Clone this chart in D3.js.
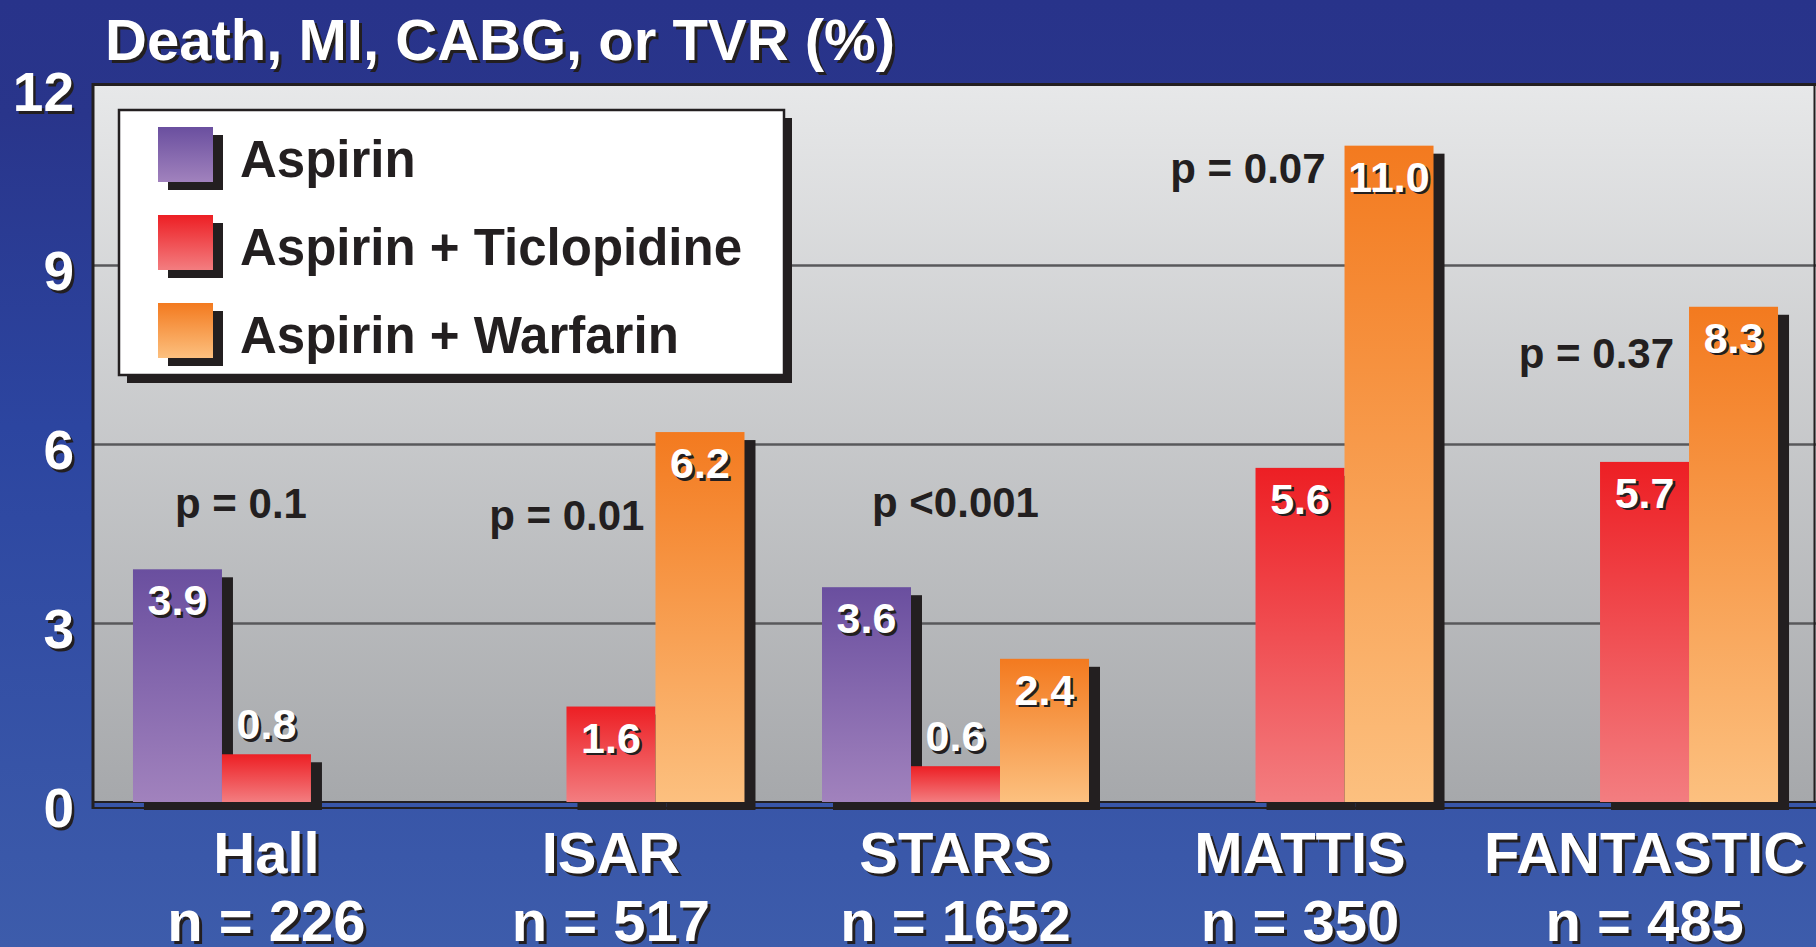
<!DOCTYPE html>
<html>
<head>
<meta charset="utf-8">
<script src="https://cdn.jsdelivr.net/npm/d3@7"></script>
<style>
  body { margin: 0; background: #2c3f95; }
  svg { display: block; font-family: "Liberation Sans", Arial, sans-serif; font-weight: bold; }
</style>
</head>
<body>
<div id="vis"></div>
<script>
// data
const trials = ["Hall", "ISAR", "STARS", "MATTIS", "FANTASTIC"];
const trialN = ["n = 226", "n = 517", "n = 1652", "n = 350", "n = 485"];
const seriesNames = ["Aspirin", "Aspirin + Ticlopidine", "Aspirin + Warfarin"];
const aspirin = [3.9, null, 3.6, null, null];
const ticlopidine = [0.8, 1.6, 0.6, 5.6, 5.7];
const warfarin = [null, 6.2, 2.4, 11.0, 8.3];
const pValues = ["p = 0.1", "p = 0.01", "p <0.001", "p = 0.07", "p = 0.37"];
const yTicks = [0, 3, 6, 9, 12];

const FRAME_WIDTH = 1816;
const FRAME_HEIGHT = 947;
const PLOT = {left: 93, top: 85, right: 1816, bottom: 802};
const DARK = "#231f20";
const SHADOW = {dx: 11, dy: 8};

// where each p label sits: offset from the band start, anchor, and height in data units
const P_LAYOUT = [
  {dx: 108, anchor: "middle", y: 4.76},
  {dx: 167, anchor: "end", y: 4.56},
  {dx: 133.5, anchor: "middle", y: 4.78},
  {dx: 159, anchor: "end", y: 10.37},
  {dx: 163, anchor: "end", y: 7.27}
];

const colors = [
  ["#6a4f9f", "#a182bd"],
  ["#ed1f24", "#f37d80"],
  ["#f37a1f", "#fcc07f"]
];

const table = trials.map((t, i) => ({
  trial: t,
  values: [aspirin[i], ticlopidine[i], warfarin[i]]
}));

const svg = d3.select("#vis").append("svg")
  .attr("width", FRAME_WIDTH)
  .attr("height", FRAME_HEIGHT);

const defs = svg.append("defs");

function vGrad(id, stops) {
  const g = defs.append("linearGradient").attr("id", id)
    .attr("x1", 0).attr("y1", 0).attr("x2", 0).attr("y2", 1);
  stops.forEach(s => g.append("stop").attr("offset", s[0]).attr("stop-color", s[1]));
}
vGrad("bg", [[0, "#28338a"], [0.12, "#29358b"], [0.45, "#2c45a0"], [1, "#3d5cab"]]);
vGrad("plotbg", [[0, "#e7e8e9"], [1, "#a6a8ab"]]);
colors.forEach((c, i) => vGrad("bar" + i, [[0, c[0]], [1, c[1]]]));

svg.append("rect").attr("width", FRAME_WIDTH).attr("height", FRAME_HEIGHT).attr("fill", "url(#bg)");

// scales
const X_SCALE = d3.scaleBand()
  .domain(trials)
  .range([PLOT.left, 1818])
  .paddingInner(0.225)
  .paddingOuter(0.116);

const X_SUB = d3.scaleBand()
  .domain([0, 1, 2])
  .range([0, X_SCALE.bandwidth()]);

const Y_SCALE = d3.scaleLinear()
  .domain([0, 12])
  .range([PLOT.bottom, 86]);

// plot area
svg.append("rect")
  .attr("x", PLOT.left).attr("y", PLOT.top)
  .attr("width", PLOT.right - PLOT.left).attr("height", PLOT.bottom - PLOT.top)
  .attr("fill", "url(#plotbg)");

// gridlines
svg.append("g")
  .attr("transform", "translate(" + PLOT.left + ",0)")
  .call(d3.axisLeft(Y_SCALE).tickValues([3, 6, 9]).tickSize(-(PLOT.right - PLOT.left)).tickFormat(""))
  .call(g => g.select(".domain").remove())
  .call(g => g.selectAll("line").attr("stroke", "#58595b").attr("stroke-width", 2.5));

// frame lines
svg.append("line").attr("x1", PLOT.left - 1).attr("x2", PLOT.right).attr("y1", 84.5).attr("y2", 84.5)
  .attr("stroke", DARK).attr("stroke-width", 3);
svg.append("line").attr("x1", PLOT.left).attr("x2", PLOT.left).attr("y1", 83).attr("y2", 809)
  .attr("stroke", DARK).attr("stroke-width", 3);
svg.append("line").attr("x1", 1814.5).attr("x2", 1814.5).attr("y1", 83).attr("y2", PLOT.bottom)
  .attr("stroke", DARK).attr("stroke-width", 2);
svg.append("line").attr("x1", PLOT.left).attr("x2", PLOT.right).attr("y1", PLOT.bottom).attr("y2", PLOT.bottom)
  .attr("stroke", DARK).attr("stroke-width", 2);
svg.append("line").attr("x1", PLOT.left).attr("x2", PLOT.right).attr("y1", 808).attr("y2", 808)
  .attr("stroke", DARK).attr("stroke-width", 2);

// bars
const barData = [];
table.forEach(d => d.values.forEach((v, s) => {
  if (v !== null) barData.push({trial: d.trial, s: s, v: v});
}));
const bx = d => X_SCALE(d.trial) + X_SUB(d.s);

svg.append("g").selectAll("rect")
  .data(barData).enter().append("rect")
  .attr("x", d => bx(d) + SHADOW.dx)
  .attr("y", d => Y_SCALE(d.v) + SHADOW.dy)
  .attr("width", X_SUB.bandwidth())
  .attr("height", d => Y_SCALE(0) - Y_SCALE(d.v))
  .attr("fill", DARK);

svg.append("g").selectAll("rect")
  .data(barData).enter().append("rect")
  .attr("x", d => bx(d))
  .attr("y", d => Y_SCALE(d.v))
  .attr("width", X_SUB.bandwidth())
  .attr("height", d => Y_SCALE(0) - Y_SCALE(d.v))
  .attr("fill", d => "url(#bar" + d.s + ")");

// text with a drop shadow
function shadowText(x, y, txt, size, anchor, off) {
  const g = svg.append("g")
    .attr("font-size", size)
    .attr("text-anchor", anchor);
  g.append("text").attr("x", x + off).attr("y", y + off).attr("fill", DARK).text(txt);
  g.append("text").attr("x", x).attr("y", y).attr("fill", "#fff").text(txt);
  return g;
}

// value labels
barData.forEach(d => {
  const cx = bx(d) + X_SUB.bandwidth() / 2;
  const y = d.v < 1 ? Y_SCALE(d.v) - 15 : Y_SCALE(d.v) + 46;
  shadowText(cx, y, d.v.toFixed(1), 43, "middle", 2.5);
});

// p values
svg.append("g").selectAll("text")
  .data(pValues).enter().append("text")
  .attr("x", (d, i) => X_SCALE(trials[i]) + P_LAYOUT[i].dx)
  .attr("y", (d, i) => Y_SCALE(P_LAYOUT[i].y))
  .attr("text-anchor", (d, i) => P_LAYOUT[i].anchor)
  .attr("font-size", 42)
  .attr("fill", DARK)
  .text(d => d);

// y axis labels
yTicks.forEach(t => shadowText(74, Y_SCALE(t) + 25, String(t), 55, "end", 2.5));

// category labels
trials.forEach((t, i) => {
  const cx = X_SCALE(t) + X_SCALE.bandwidth() / 2;
  shadowText(cx, 873, t, 58, "middle", 3);
  shadowText(cx, 941, trialN[i], 58, "middle", 3);
});

// title
const title = shadowText(105, 60, "Death, MI, CABG, or TVR (%)", 57, "start", 3);
title.selectAll("text").attr("textLength", 790).attr("lengthAdjust", "spacingAndGlyphs");

// legend
const LEG = {x: 119, y: 110, w: 665, h: 265};
svg.append("rect").attr("x", LEG.x + 8).attr("y", LEG.y + 8).attr("width", LEG.w).attr("height", LEG.h).attr("fill", DARK);
svg.append("rect").attr("x", LEG.x).attr("y", LEG.y).attr("width", LEG.w).attr("height", LEG.h)
  .attr("fill", "#fff").attr("stroke", DARK).attr("stroke-width", 2.5);

const legItems = svg.append("g").selectAll("g")
  .data(seriesNames).enter().append("g")
  .attr("transform", (d, i) => "translate(" + (LEG.x + 39) + "," + (LEG.y + 17 + i * 88) + ")");
legItems.append("rect").attr("x", 10).attr("y", 8).attr("width", 55).attr("height", 55).attr("fill", DARK);
legItems.append("rect").attr("width", 55).attr("height", 55).attr("fill", (d, i) => "url(#bar" + i + ")");
legItems.append("text")
  .attr("x", 82).attr("y", 50)
  .attr("font-size", 51)
  .attr("fill", DARK)
  .text(d => d);
</script>
</body>
</html>
